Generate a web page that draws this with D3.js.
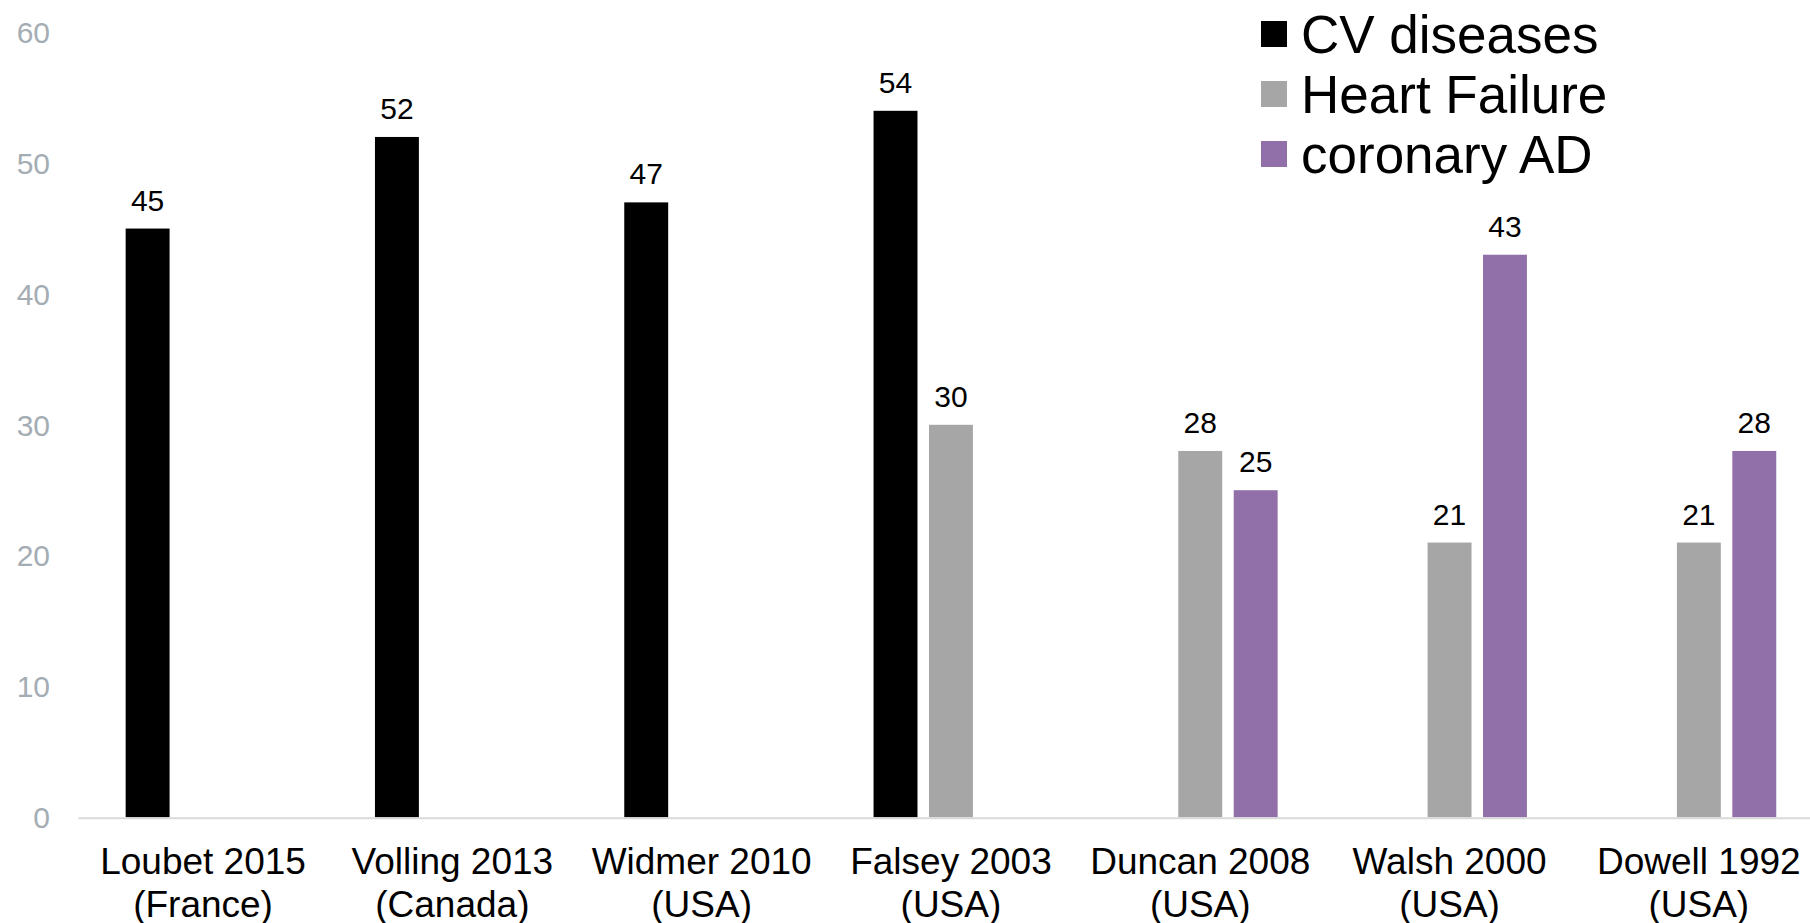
<!DOCTYPE html>
<html>
<head>
<meta charset="utf-8">
<script src="https://cdn.jsdelivr.net/npm/d3@7/dist/d3.min.js"></script>
<style>
  html, body { margin: 0; padding: 0; background: #ffffff; }
  svg { display: block; font-family: "Liberation Sans", Arial, Helvetica, sans-serif; }
</style>
</head>
<body>
<svg id="chart" width="1810" height="923"></svg>
<script>
// Study labels (two lines each)
const studies = ["Loubet 2015", "Volling 2013", "Widmer 2010", "Falsey 2003", "Duncan 2008", "Walsh 2000", "Dowell 1992"];
const countries = ["(France)", "(Canada)", "(USA)", "(USA)", "(USA)", "(USA)", "(USA)"];

// Series values (null = not reported)
const seriesNames = ["CV diseases", "Heart Failure", "coronary AD"];
const cvDiseases   = [45, 52, 47, 54, null, null, null];
const heartFailure = [null, null, null, 30, 28, 21, 21];
const coronaryAD   = [null, null, null, null, 25, 43, 28];
const seriesColors = ["#000000", "#a6a6a6", "#9170aa"];

const yTicks = [0, 10, 20, 30, 40, 50, 60];

const seriesValues = [cvDiseases, heartFailure, coronaryAD];

const svg = d3.select("#chart");

// The category bands run slightly past the right edge of the canvas
const plotLeft = 78.4, plotRight = 1823.5, canvasRight = 1810;
const y = d3.scaleLinear().domain([0, 60]).range([817.3, 32.3]);

const x0 = d3.scaleBand().domain(studies).range([plotLeft, plotRight]).padding(0);
const groupW = x0.bandwidth() * 0.667;
const x1 = d3.scaleBand().domain(seriesNames)
  .range([(x0.bandwidth() - groupW) / 2, (x0.bandwidth() + groupW) / 2])
  .paddingInner(0.2075).paddingOuter(0.1037);

// Y tick labels (no gridlines)
svg.append("g").selectAll("text").data(yTicks).join("text")
  .attr("x", 50)
  .attr("y", d => y(d))
  .attr("dy", "0.36em")
  .attr("text-anchor", "end")
  .attr("font-size", 30)
  .attr("fill", "#a5adb4")
  .text(d => d);

// Bars
const rows = [];
studies.forEach((s, i) => {
  seriesNames.forEach((n, k) => {
    const v = seriesValues[k][i];
    if (v != null) rows.push({ study: s, series: n, value: v, color: seriesColors[k] });
  });
});

svg.append("g").selectAll("rect").data(rows).join("rect")
  .attr("x", d => x0(d.study) + x1(d.series))
  .attr("width", x1.bandwidth())
  .attr("y", d => y(d.value))
  .attr("height", d => y(0) - y(d.value))
  .attr("fill", d => d.color);

// Value labels
svg.append("g").selectAll("text").data(rows).join("text")
  .attr("x", d => x0(d.study) + x1(d.series) + x1.bandwidth() / 2)
  .attr("y", d => y(d.value) - 18)
  .attr("text-anchor", "middle")
  .attr("font-size", 30)
  .attr("fill", "#000")
  .text(d => d.value);

// Category axis line
svg.append("line")
  .attr("x1", plotLeft).attr("x2", canvasRight)
  .attr("y1", y(0) + 1).attr("y2", y(0) + 1)
  .attr("stroke", "#d9d9d9").attr("stroke-width", 2);

// Category labels
const cat = svg.append("g").selectAll("text").data(studies).join("text")
  .attr("x", d => x0(d) + x0.bandwidth() / 2)
  .attr("y", 874)
  .attr("text-anchor", "middle")
  .attr("font-size", 37)
  .attr("fill", "#000");
cat.append("tspan").attr("x", d => x0(d) + x0.bandwidth() / 2).text(d => d);
cat.append("tspan").attr("x", d => x0(d) + x0.bandwidth() / 2).attr("dy", 43)
  .text((d, i) => countries[i]);

// Legend
const legend = svg.append("g").attr("transform", "translate(1261,0)");
const lg = legend.selectAll("g").data(seriesNames).join("g")
  .attr("transform", (d, i) => `translate(0, ${34 + i * 60})`);
lg.append("rect")
  .attr("x", 0).attr("y", -13).attr("width", 26).attr("height", 26)
  .attr("fill", (d, i) => seriesColors[i]);
lg.append("text")
  .attr("x", 40).attr("y", 0).attr("dy", "0.36em")
  .attr("font-size", 53)
  .attr("fill", "#000")
  .text(d => d);
</script>
</body>
</html>
